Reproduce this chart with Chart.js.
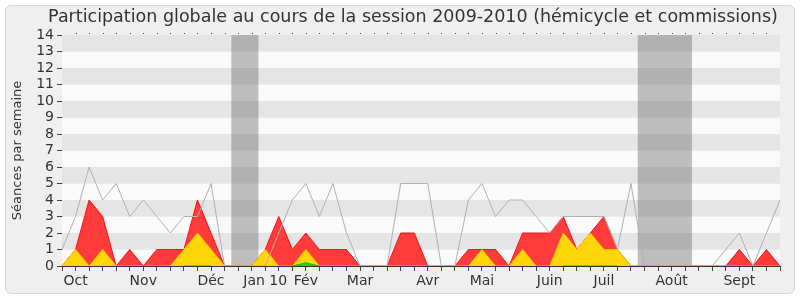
<!DOCTYPE html>
<html><head><meta charset="utf-8">
<script src="https://cdn.jsdelivr.net/npm/chart.js@4"></script>
<style>
html,body{margin:0;padding:0;background:#fff;}
#wrap{position:relative;width:800px;height:300px;overflow:hidden;}
#frame{position:absolute;left:5px;top:5px;width:788px;height:287px;border:1px solid #d6d6d6;border-radius:6px;background:#efefef;}
#c{position:absolute;left:0;top:0;}
</style></head><body>
<div id="wrap"><div id="frame"></div><canvas id="c" width="800" height="300"></canvas></div>
<script>
// Weekly tick labels (54 weeks, month name at the first week of each month)
const semaines = ['', 'Oct', '', '', '', '', 'Nov', '', '', '', '', 'Déc', '', '', '', 'Jan 10', '', '', 'Fév', '', '', '', 'Mar', '', '', '', '', 'Avr', '', '', '', 'Mai', '', '', '', '', 'Juin', '', '', '', 'Juil', '', '', '', '', 'Août', '', '', '', '', 'Sept', '', '', ''];
// Grey line: median presence
const mediane = [1, 3, 6, 4, 5, 3, 4, 3, 2, 3, 3, 5, 0, 0, 0, 0, 2, 4, 5, 3, 5, 2, 0, 0, 0, 5, 5, 5, 0, 0, 4, 5, 3, 4, 4, 3, 2, 3, 3, 3, 3, 1, 5, 0, 0, 0, 0, 0, 0, 1, 2, 0, 2, 4];
// Red area: total sessions (hémicycle + commissions)
const total = [0, 1, 4, 3, 0, 1, 0, 1, 1, 1, 4, 2, 0, 0, 0, 1, 3, 1, 2, 1, 1, 1, 0, 0, 0, 2, 2, 0, 0, 0, 1, 1, 1, 0, 2, 2, 2, 3, 1, 2, 3, 1, 0, 0, 0, 0, 0, 0, 0, 0, 1, 0, 1, 0];
// Yellow area: hémicycle sessions
const hemicycle = [0, 1, 0, 1, 0, 0, 0, 0, 0, 1, 2, 1, 0, 0, 0, 1, 0, 0, 1, 0, 0, 0, 0, 0, 0, 0, 0, 0, 0, 0, 0, 1, 0, 0, 1, 0, 0, 2, 1, 2, 1, 1, 0, 0, 0, 0, 0, 0, 0, 0, 0, 0, 0, 0];
// Green area: interventions
const interventions = [null, null, null, null, null, null, null, null, null, 0, 0, 0, null, null, null, null, null, 0, 0.2, 0, null, null, null, null, null, null, null, null, null, null, null, null, null, null, null, null, null, 0, 0, 0, 0, 0, null, null, null, null, null, null, null, null, null, null, null, null];
// Vacation periods (in week index units)
const vacances = [[12.5, 14.5], [42.5, 46.5]];
const yTicks = [0, 14];
const titre = 'Participation globale au cours de la session 2009-2010 (hémicycle et commissions)';

const FONT = "'DejaVu Sans', Verdana, sans-serif";

const bgPlugin = {
  id: 'bg',
  beforeDatasetsDraw(chart) {
    const {ctx, chartArea: a, scales: {x, y}} = chart;
    ctx.save();
    for (let v = yTicks[0]; v < yTicks[1]; v++) {
      const top = y.getPixelForValue(v + 1), bot = y.getPixelForValue(v);
      ctx.fillStyle = (v % 2 === 1) ? '#e5e5e5' : '#fafafa';
      ctx.fillRect(a.left, top, a.right - a.left, bot - top);
    }
    ctx.fillStyle = 'rgba(100,100,100,0.4)';
    vacances.forEach(([s, e]) => {
      const x0 = x.getPixelForValue(s), x1 = x.getPixelForValue(e);
      ctx.fillRect(x0, a.top, x1 - x0, a.bottom - a.top);
    });
    ctx.restore();
  },
  afterDraw(chart) {
    const {ctx, chartArea: a, scales: {x}} = chart;
    ctx.save();
    ctx.fillStyle = '#444';
    for (let i = 1; i < semaines.length - 1; i++) {
      const px = Math.round(x.getPixelForValue(i));
      ctx.fillRect(px, a.top - 2, 1, 1);
    }
    // title
    ctx.fillStyle = '#333';
    ctx.font = '17.5px ' + FONT;
    ctx.textAlign = 'center';
    ctx.textBaseline = 'middle';
    ctx.fillText(titre, 413, 17.5);
    ctx.restore();
  }
};

new Chart(document.getElementById('c'), {
  type: 'line',
  data: {
    labels: semaines,
    datasets: [
      {label: 'Médiane', data: mediane, borderColor: '#b0b0b0', borderWidth: 1, fill: false, pointRadius: 0},
      {label: 'Interventions', data: interventions, borderColor: '#22bb00', backgroundColor: '#33cc00', borderWidth: 1, fill: 'origin', pointRadius: 0, spanGaps: false},
      {label: 'Hémicycle', data: hemicycle, borderColor: '#ffc400', backgroundColor: '#ffd60a', borderWidth: 1, fill: 'origin', pointRadius: 0},
      {label: 'Commissions', data: total, borderColor: '#ff1010', backgroundColor: '#ff3b3b', borderWidth: 1, fill: 'origin', pointRadius: 0}
    ]
  },
  options: {
    responsive: false,
    animation: false,
    devicePixelRatio: 1,
    layout: {padding: {left: 0, right: 20, top: 35, bottom: 0}},
    plugins: {
      legend: {display: false},
      tooltip: {enabled: false},
      title: {display: false}
    },
    scales: {
      x: {
        offset: false,
        grid: {drawOnChartArea: false, tickLength: 5, color: '#444', tickColor: '#444'},
        border: {color: '#333', width: 1},
        ticks: {autoSkip: false, maxRotation: 0, minRotation: 0, padding: 2, color: '#333', font: {family: FONT, size: 14}},
        afterFit(s) { s.height = 34; }
      },
      y: {
        min: yTicks[0], max: yTicks[1],
        grid: {drawOnChartArea: false, tickLength: 5, color: '#444', tickColor: '#444'},
        border: {color: '#333', width: 1},
        ticks: {stepSize: 1, autoSkip: false, padding: 3, color: '#333', font: {family: FONT, size: 14}},
        title: {display: true, text: 'Séances par semaine', color: '#333', font: {family: FONT, size: 13}, padding: {top: 10, bottom: 0}},
        afterFit(s) { s.width = 62; }
      }
    }
  },
  plugins: [bgPlugin]
});
</script>
</body></html>
